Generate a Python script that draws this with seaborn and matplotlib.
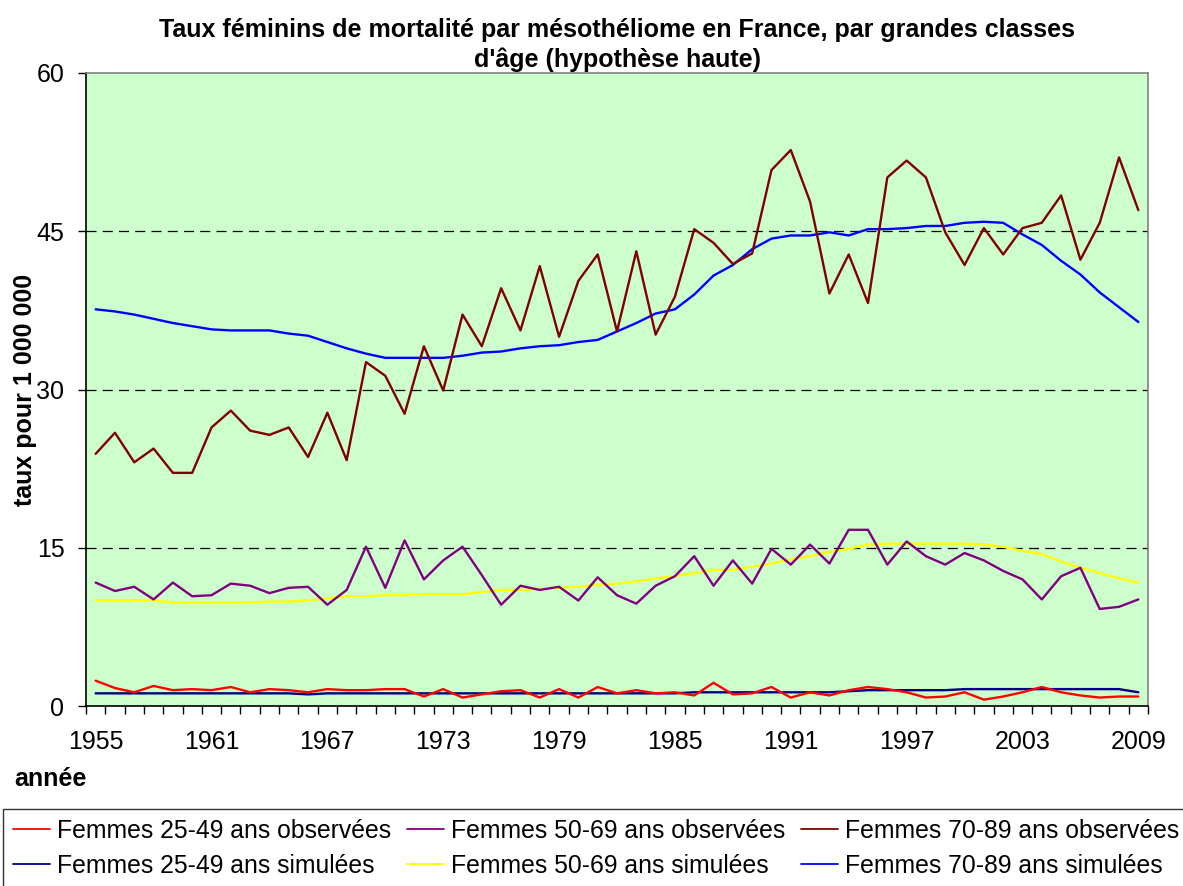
import numpy as np
import pandas as pd
import matplotlib
matplotlib.use("Agg")
import matplotlib.pyplot as plt
from matplotlib.ticker import MultipleLocator, FixedLocator
import seaborn as sns

years = list(range(1955, 2010))

# Femmes 25-49 ans
obs_25_49 = [2.4, 1.7, 1.3, 1.9, 1.5, 1.6, 1.5, 1.8, 1.3, 1.6,
             1.5, 1.3, 1.6, 1.5, 1.5, 1.6, 1.6, 0.9, 1.6, 0.8,
             1.1, 1.4, 1.5, 0.8, 1.6, 0.8, 1.8, 1.2, 1.5, 1.2,
             1.3, 1.0, 2.2, 1.1, 1.2, 1.8, 0.8, 1.3, 1.0, 1.5,
             1.8, 1.6, 1.3, 0.8, 0.9, 1.3, 0.6, 0.9, 1.3, 1.8,
             1.3, 1.0, 0.8, 0.9, 0.9]
sim_25_49 = [1.2, 1.2, 1.2, 1.2, 1.2, 1.2, 1.2, 1.2, 1.2, 1.2,
             1.2, 1.1, 1.2, 1.2, 1.2, 1.2, 1.2, 1.2, 1.2, 1.2,
             1.2, 1.2, 1.2, 1.2, 1.2, 1.2, 1.2, 1.2, 1.2, 1.2,
             1.2, 1.3, 1.3, 1.3, 1.3, 1.3, 1.3, 1.3, 1.3, 1.4,
             1.5, 1.5, 1.5, 1.5, 1.5, 1.6, 1.6, 1.6, 1.6, 1.6,
             1.6, 1.6, 1.6, 1.6, 1.3]

# Femmes 50-69 ans
obs_50_69 = [11.7, 10.9, 11.3, 10.1, 11.7, 10.4, 10.5, 11.6, 11.4, 10.7,
             11.2, 11.3, 9.6, 11.0, 15.1, 11.2, 15.7, 12.0, 13.8, 15.1,
             12.4, 9.6, 11.4, 11.0, 11.3, 10.0, 12.2, 10.5, 9.7, 11.4,
             12.3, 14.2, 11.4, 13.8, 11.6, 14.9, 13.4, 15.3, 13.5, 16.7,
             16.7, 13.4, 15.6, 14.2, 13.4, 14.5, 13.8, 12.8, 12.0, 10.1,
             12.3, 13.1, 9.2, 9.4, 10.1]
sim_50_69 = [10.0, 10.0, 10.0, 10.0, 9.8, 9.8, 9.8, 9.8, 9.8, 9.9,
             9.9, 10.0, 10.2, 10.4, 10.4, 10.5, 10.5, 10.6, 10.6, 10.6,
             10.8, 11.0, 11.0, 11.1, 11.2, 11.3, 11.5, 11.6, 11.8, 12.1,
             12.3, 12.6, 12.9, 12.9, 13.2, 13.5, 13.9, 14.2, 14.6, 14.9,
             15.3, 15.4, 15.4, 15.4, 15.4, 15.4, 15.3, 15.1, 14.7, 14.4,
             13.7, 13.1, 12.6, 12.1, 11.7]

# Femmes 70-89 ans
obs_70_89 = [23.9, 25.9, 23.1, 24.4, 22.1, 22.1, 26.4, 28.0, 26.1, 25.7,
             26.4, 23.6, 27.8, 23.3, 32.6, 31.3, 27.7, 34.1, 29.9, 37.1,
             34.1, 39.6, 35.6, 41.7, 35.0, 40.3, 42.8, 35.5, 43.1, 35.2,
             38.8, 45.2, 43.9, 41.9, 42.9, 50.8, 52.7, 47.8, 39.1, 42.8,
             38.2, 50.1, 51.7, 50.1, 44.9, 41.8, 45.3, 42.8, 45.3, 45.8,
             48.4, 42.3, 45.8, 52.0, 47.0]
sim_70_89 = [37.6, 37.4, 37.1, 36.7, 36.3, 36.0, 35.7, 35.6, 35.6, 35.6,
             35.3, 35.1, 34.5, 33.9, 33.4, 33.0, 33.0, 33.0, 33.0, 33.2,
             33.5, 33.6, 33.9, 34.1, 34.2, 34.5, 34.7, 35.5, 36.3, 37.2,
             37.6, 39.0, 40.8, 41.8, 43.3, 44.3, 44.6, 44.6, 44.9, 44.6,
             45.2, 45.2, 45.3, 45.5, 45.5, 45.8, 45.9, 45.8, 44.7, 43.7,
             42.2, 40.9, 39.2, 37.8, 36.4]

labels = ["Femmes 25-49 ans observées", "Femmes 25-49 ans simulées",
          "Femmes 50-69 ans observées", "Femmes 50-69 ans simulées",
          "Femmes 70-89 ans observées", "Femmes 70-89 ans simulées"]
series = [obs_25_49, sim_25_49, obs_50_69, sim_50_69, obs_70_89, sim_70_89]
colors = ["#FF0000", "#000080", "#800080", "#FFFF00", "#800000", "#0000FF"]

sns.set_style("white")
plt.rcParams['font.family'] = ['Liberation Sans', 'DejaVu Sans']
plt.rcParams['text.color'] = 'black'
plt.rcParams['axes.labelcolor'] = 'black'
plt.rcParams['xtick.color'] = 'black'
plt.rcParams['ytick.color'] = 'black'

fig = plt.figure(figsize=(11.83, 8.86), dpi=100)
ax = fig.add_axes([86 / 1183, 1 - 706 / 886, (1148 - 86) / 1183, (706 - 73) / 886])
ax.set_facecolor("#CCFFCC")

# draw in reverse so the small series stay on top like the original
for i in [5, 4, 3, 2, 1, 0]:
    sns.lineplot(x=years, y=series[i], color=colors[i], lw=1.7, ax=ax,
                 label=labels[i], legend=False)

ax.set_xlim(1954.5, 2009.5)
ax.set_ylim(0, 60)
ax.yaxis.set_major_locator(MultipleLocator(15))
for yv in [15, 30, 45]:
    ax.axhline(yv, color="black", lw=0.9, ls=(0, (8, 5)), zorder=0.5)

ax.xaxis.set_major_locator(FixedLocator(list(range(1955, 2010, 6))))
ax.xaxis.set_minor_locator(FixedLocator(list(np.arange(1954.5, 2010, 1.0))))
ax.tick_params(axis="x", which="major", bottom=True, length=0, labelsize=18, pad=17)
ax.tick_params(axis="x", which="minor", bottom=True, length=5.5, width=1, direction="out")
ax.tick_params(axis="y", which="major", left=True, length=5.5, width=1, direction="out",
               labelsize=18, pad=10)

for side in ["left", "bottom"]:
    ax.spines[side].set_color("black")
    ax.spines[side].set_linewidth(1.2)
for side in ["top", "right"]:
    ax.spines[side].set_color("#808080")
    ax.spines[side].set_linewidth(1.2)

ax.set_title("Taux féminins de mortalité par mésothéliome en France, par grandes classes\nd'âge (hypothèse haute)",
             fontsize=18, fontweight="bold", pad=4, linespacing=1.3)
ax.set_ylabel("taux pour 1 000 000", fontsize=18, fontweight="bold")
ax.yaxis.set_label_coords(-0.046, 0.5)
fig.text(14 / 1183, 1 - 779 / 886, "année", fontsize=18, fontweight="bold",
         ha="left", va="center")

handles, labs = ax.get_legend_handles_labels()
hmap = dict(zip(labs, handles))
leg = fig.legend([hmap[l] for l in labels], labels, ncol=3,
                 loc="upper left", bbox_to_anchor=(3 / 1183, 1 - 809 / 886),
                 fontsize=17.8, frameon=True, fancybox=False,
                 edgecolor="black", handlelength=1.5, handletextpad=0.3,
                 borderaxespad=0, borderpad=0.4, labelspacing=0.45, columnspacing=0.62)
leg.get_frame().set_linewidth(1.0)
for h in leg.get_lines():
    h.set_linewidth(1.3)

fig.savefig("out.png", dpi=100)
